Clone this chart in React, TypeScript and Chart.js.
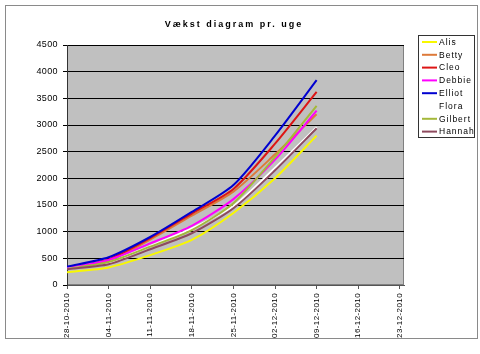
import React, { useEffect, useRef } from "react";
import { Chart, registerables } from "chart.js";

Chart.register(...registerables);

const titleText = "Vækst diagram pr. uge";
const tickLabels = [
  "28-10-2010", "04-11-2010", "11-11-2010", "18-11-2010", "25-11-2010",
  "02-12-2010", "09-12-2010", "16-12-2010", "23-12-2010",
];
const dayOffsets = [0, 7, 14, 21, 28, 35, 42];

const seriesNames = ["Alis", "Betty", "Cleo", "Debbie", "Elliot", "Flora", "Gilbert", "Hannah"];
const alis = [240, 330, 560, 845, 1350, 2000, 2800];
const betty = [300, 450, 850, 1300, 1750, 2450, 3200];
const cleo = [310, 480, 880, 1340, 1800, 2650, 3620];
const debbie = [320, 470, 780, 1110, 1610, 2350, 3270];
const elliot = [345, 520, 900, 1370, 1875, 2800, 3840];
const flora = [300, 420, 730, 1060, 1480, 2200, 2960];
const gilbert = [300, 430, 720, 1030, 1535, 2400, 3360];
const hannah = [295, 390, 670, 970, 1440, 2150, 2940];
const seriesValues = [alis, betty, cleo, debbie, elliot, flora, gilbert, hannah];
const seriesColors = ["#f8f800", "#dd7a3a", "#dd1515", "#ff00ff", "#0000d0", "#ffffff", "#a4b83a", "#8e4a5e"];

const decorPlugin = {
  id: "decor",
  beforeUpdate(chart: any) {
    chart.ctx.letterSpacing = "0.4px";
  },
  beforeDraw(chart: any) {
    const { ctx, chartArea: a, width, height } = chart;
    ctx.save();
    ctx.fillStyle = "#ffffff";
    ctx.fillRect(0, 0, width, height);
    ctx.strokeStyle = "#8a8a8a";
    ctx.lineWidth = 1;
    ctx.strokeRect(5.5, 5.5, 472, 333);
    ctx.fillStyle = "#c0c0c0";
    ctx.fillRect(a.left, a.top, a.right - a.left, a.bottom - a.top);
    ctx.strokeStyle = "#808080";
    ctx.strokeRect(a.left + 0.5, a.top + 0.5, a.right - a.left - 1, a.bottom - a.top - 1);
    ctx.restore();
    chart.ctx.letterSpacing = "0.4px";
  },
  afterDraw(chart: any) {
    const { ctx } = chart;
    ctx.save();
    // title
    ctx.letterSpacing = "2px";
    ctx.font = "bold 9px 'Liberation Sans', Arial, sans-serif";
    ctx.fillStyle = "#000";
    ctx.textAlign = "center";
    ctx.textBaseline = "middle";
    ctx.fillText(titleText, 234, 25);
    // legend
    ctx.fillStyle = "#ffffff";
    ctx.fillRect(418.5, 35.5, 56, 102);
    ctx.strokeStyle = "#333";
    ctx.lineWidth = 1;
    ctx.strokeRect(418.5, 35.5, 56, 102);
    ctx.letterSpacing = "1px";
    ctx.font = "8.5px 'Liberation Sans', Arial, sans-serif";
    ctx.textAlign = "left";
    seriesNames.forEach((name, i) => {
      const y = 42 + i * 12.8;
      ctx.strokeStyle = seriesColors[i];
      ctx.lineWidth = 2;
      ctx.beginPath();
      ctx.moveTo(422, y);
      ctx.lineTo(437, y);
      ctx.stroke();
      ctx.fillStyle = "#000";
      ctx.fillText(name, 439, y + 0.5);
    });
    ctx.restore();
  },
};

export default function App() {
  const ref = useRef<HTMLCanvasElement>(null);
  useEffect(() => {
    document.body.style.margin = "0";
    const canvas = ref.current!;
    const datasets = seriesNames.map((name, i) => ({
      label: name,
      data: dayOffsets.map((d, j) => ({ x: d, y: seriesValues[i][j] })),
      borderColor: seriesColors[i],
      backgroundColor: seriesColors[i],
      borderWidth: 2,
      pointRadius: 0,
      tension: 0.25,
      fill: false,
      order: seriesNames.length - i,
    }));
    const chart = new Chart(canvas, {
      type: "line",
      data: { datasets },
      options: {
        animation: false,
        responsive: false,
        devicePixelRatio: 1,
        layout: { padding: { left: 0, top: 45, right: 76, bottom: 0 } },
        plugins: {
          legend: { display: false },
          title: { display: false },
          tooltip: { enabled: false },
        },
        scales: {
          x: {
            type: "linear",
            min: 0,
            max: 56.7,
            afterFit(scale: any) {
              scale.height = 69;
            },
            ticks: {
              stepSize: 7,
              includeBounds: false,
              autoSkip: false,
              maxRotation: 90,
              minRotation: 90,
              padding: 4,
              color: "#000",
              font: { size: 8, family: "'Liberation Sans', Arial, sans-serif" },
              callback: (v: any) => {
                const idx = Math.round(Number(v) / 7);
                return Number(v) % 7 === 0 ? tickLabels[idx] ?? "" : "";
              },
            },
            grid: {
              drawOnChartArea: false,
              drawTicks: true,
              tickLength: 4,
              color: "#555",
            },
            border: { color: "#555", width: 1 },
          },
          y: {
            min: 0,
            max: 4500,
            afterFit(scale: any) {
              scale.width = 67;
            },
            ticks: {
              stepSize: 500,
              padding: 5,
              color: "#000",
              font: { size: 9, family: "'Liberation Sans', Arial, sans-serif" },
              callback: (v: any) => String(v),
            },
            grid: {
              color: "#000",
              lineWidth: 1,
              drawTicks: true,
              tickLength: 4,
            },
            border: { color: "#333", width: 1 },
          },
        },
      },
      plugins: [decorPlugin],
    });
    return () => chart.destroy();
  }, []);
  return (
    <div style={{ width: 480, height: 354 }}>
      <canvas ref={ref} width={480} height={354} style={{ display: "block" }} />
    </div>
  );
}
